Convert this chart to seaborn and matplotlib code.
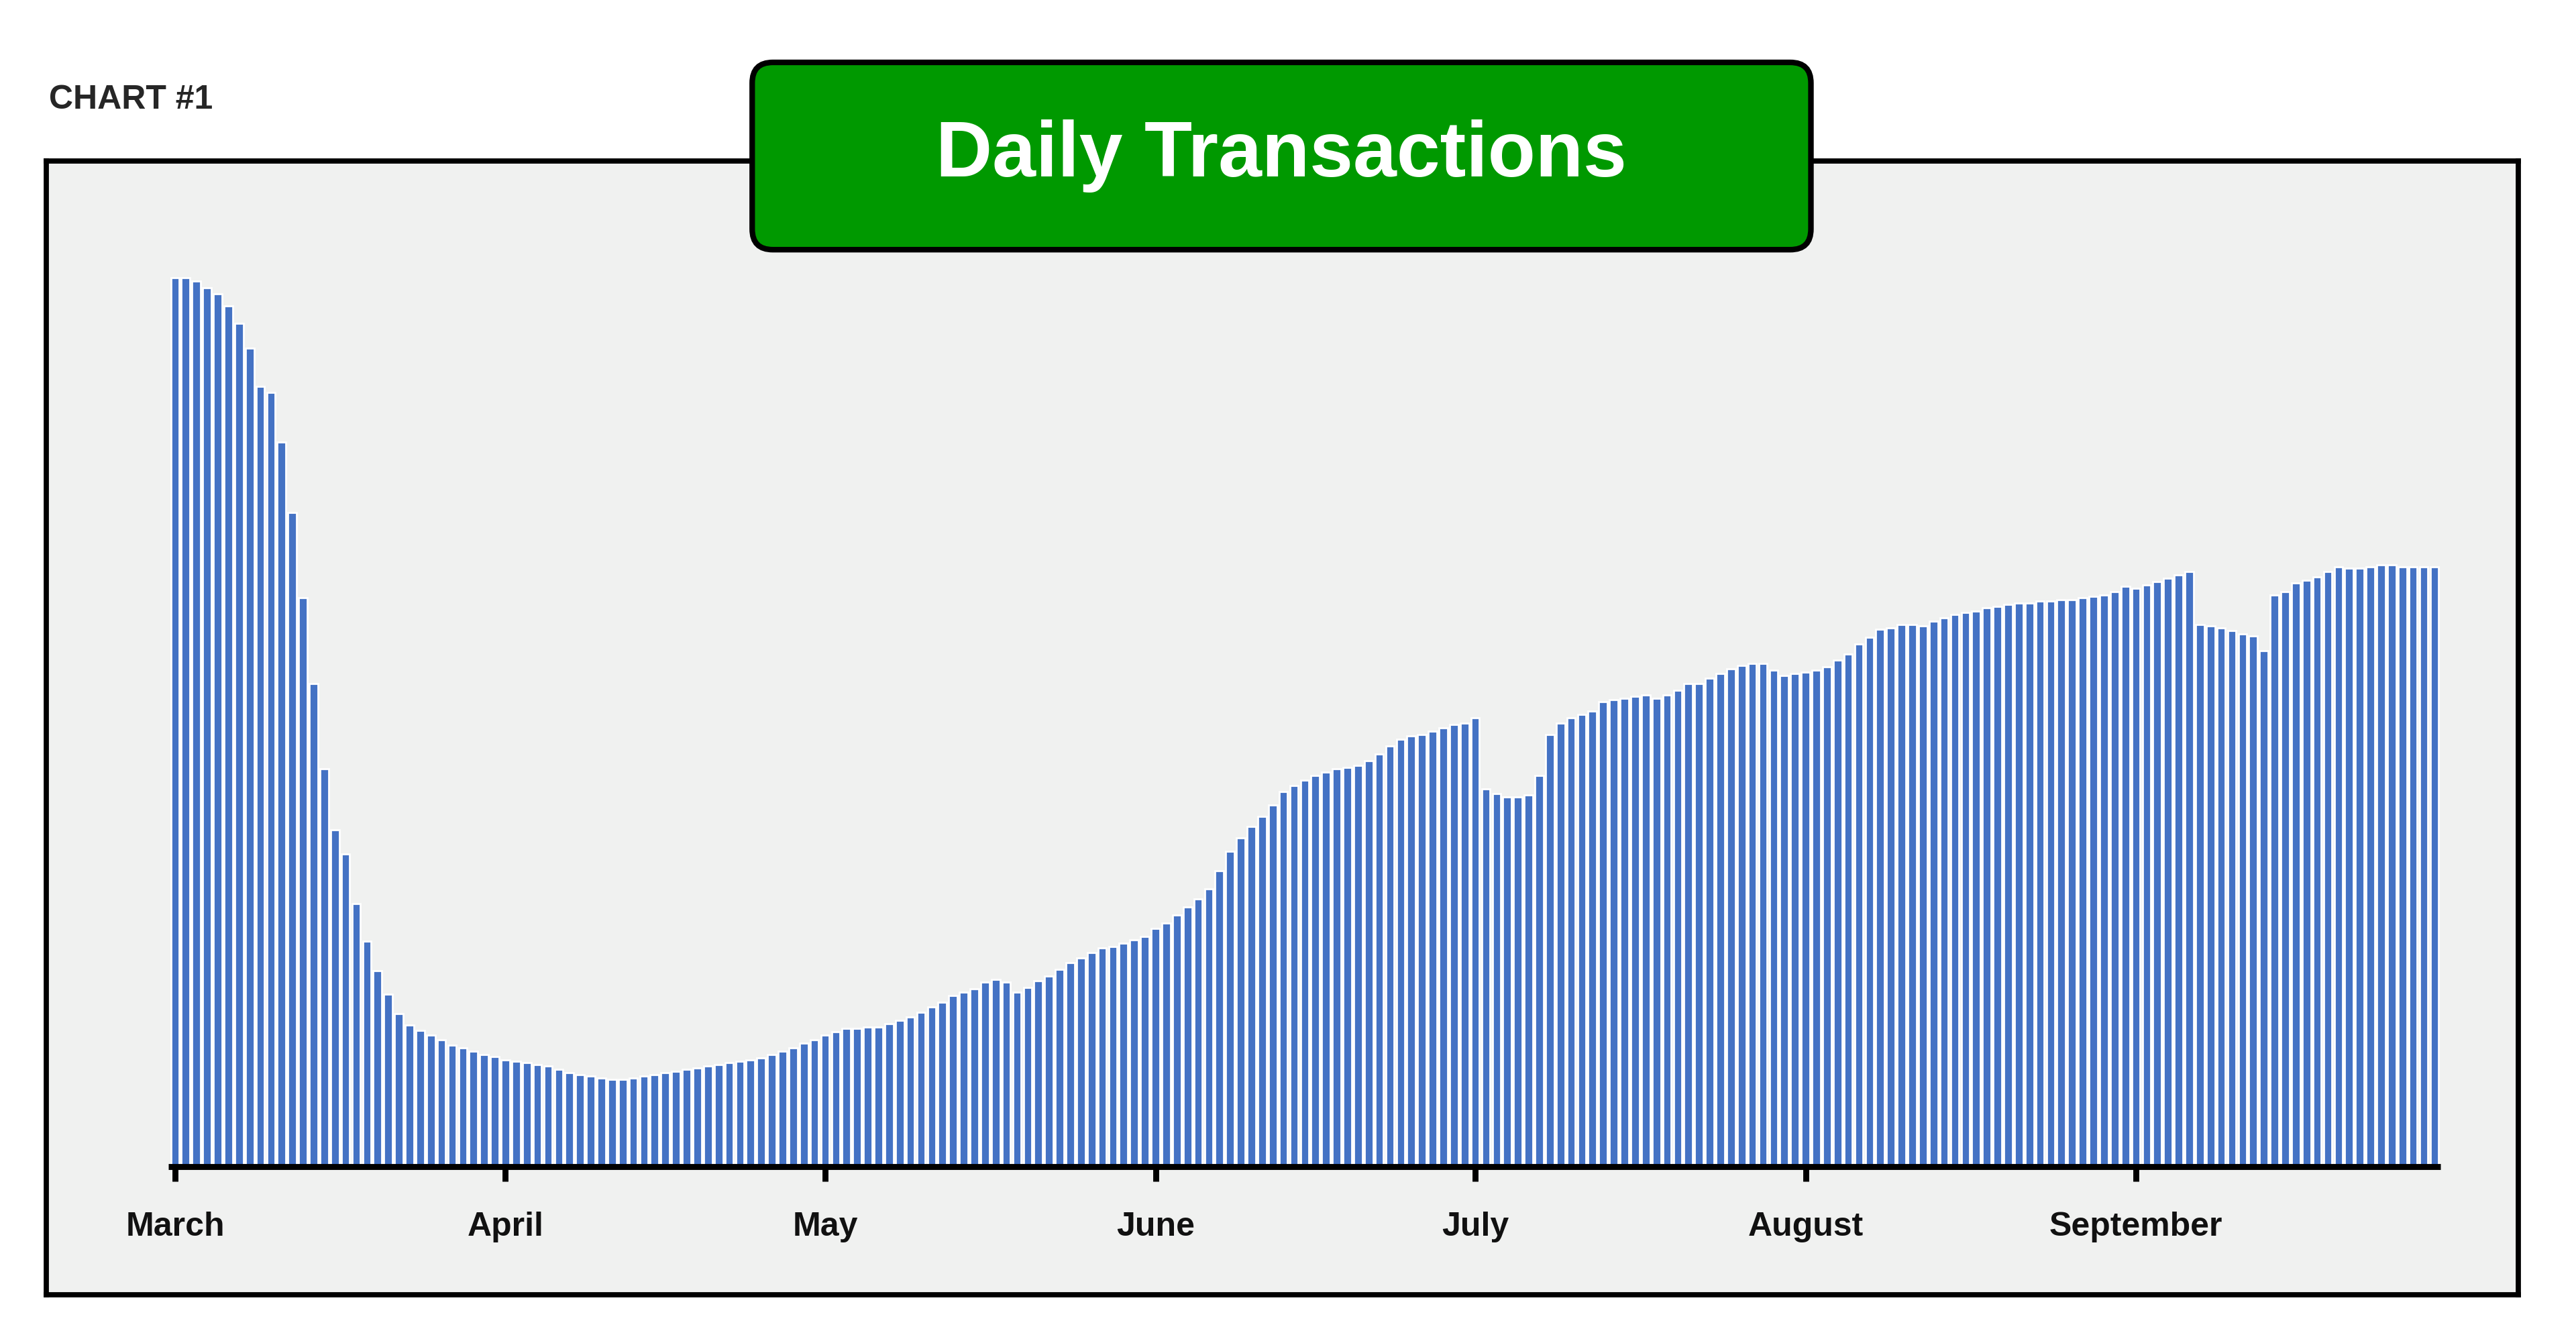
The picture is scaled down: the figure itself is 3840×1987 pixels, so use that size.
import matplotlib
matplotlib.use("Agg")
import matplotlib.pyplot as plt
from matplotlib.patches import FancyBboxPatch
import seaborn as sns
import pandas as pd

march = [541,541,539,535,531,524,513,498,475,471,441,398,346,294,242,205,190,160,137,119,105,93,86,83,80,77,74,72,70,68,67]
april = [65,64,63,62,61,59,57,56,55,54,53,53,54,55,56,57,58,59,60,61,62,63,64,65,66,68,70,72,75,77]
may = [80,82,84,84,85,85,87,89,91,94,97,100,104,106,108,112,114,112,106,109,113,116,120,124,127,130,133,134,136,138,140]
june = [145,148,153,158,163,169,180,192,200,207,213,220,228,232,235,238,240,242,243,244,247,251,256,260,262,263,265,267,269,270]
july = [273,230,227,225,225,226,238,263,270,273,275,277,283,284,285,286,287,285,287,290,294,294,297,300,303,305,306,306,302,299,300]
august = [301,302,304,308,312,318,322,327,328,330,330,329,332,334,336,337,338,340,341,342,343,343,344,344,345,345,346,347,348,350,353]
september = [352,354,356,358,360,362,330,329,328,326,324,323,314,348,350,355,357,359,362,365,364,364,365,366,366,365,365,365,365]
month_labels = ["March", "April", "May", "June", "July", "August", "September"]

months = [march, april, may, june, july, august, september]
values = [v for m in months for v in m]
starts = []
s = 0
for m in months:
    starts.append(s)
    s += len(m)
df = pd.DataFrame({"day": range(len(values)), "value": values})

sns.set_theme(style="white")
plt.rcParams['font.family'] = ['Liberation Sans', 'DejaVu Sans']

fig = plt.figure(figsize=(19.2, 9.935), dpi=200)
fig.patch.set_facecolor("white")
ax = fig.add_axes([0.0179, 0.0288, 0.9598, 0.8504])
ax.set_facecolor("#f0f1f0")
sns.barplot(data=df, x="day", y="value", color="#4472c4", saturation=1,
            width=0.8, ax=ax, native_scale=True)
n = len(values)
ax.set_xlim(-12.1, n - 1 + 7.9)
ax.set_ylim(-78, 612)
ax.hlines(0, -0.6, n - 0.4, color="black", lw=3.2, zorder=5)
ax.vlines(starts, -9, 0, color="black", lw=3.2, zorder=5)
for st, lab in zip(starts, month_labels):
    ax.text(st, -37, lab, ha="center", va="center", fontsize=18, fontweight="bold", color="#111111")
ax.set_xticks([]); ax.set_yticks([])
ax.set_xlabel(""); ax.set_ylabel("")
for sp in ax.spines.values():
    sp.set_visible(True); sp.set_color("black"); sp.set_linewidth(2.8)

fig.text(0.019, 0.925, "CHART #1", fontsize=18, fontweight="bold", ha="left", va="center")
box = FancyBboxPatch((0.292, 0.8127), 0.411, 0.1405, boxstyle="round,pad=0,rounding_size=0.008",
                     mutation_aspect=3840/1987, transform=fig.transFigure,
                     facecolor="#009900", edgecolor="black", linewidth=3, zorder=10)
fig.patches.append(box)
fig.text(0.4975, 0.883, "Daily Transactions", fontsize=42, fontweight="bold", color="white",
         ha="center", va="center", zorder=11)
fig.savefig("out.png", dpi=200, facecolor="white")
